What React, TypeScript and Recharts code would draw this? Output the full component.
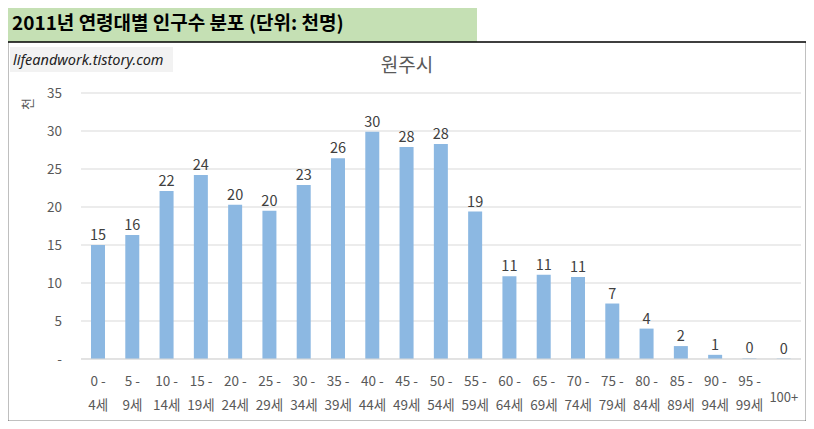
import { BarChart, Bar, XAxis, YAxis, CartesianGrid, LabelList } from 'recharts';

const FONT = '"Noto Sans CJK KR", "Noto Sans", sans-serif';

const AGE_GROUPS = [
  '0 - 4세', '5 - 9세', '10 - 14세', '15 - 19세', '20 - 24세', '25 - 29세', '30 - 34세',
  '35 - 39세', '40 - 44세', '45 - 49세', '50 - 54세', '55 - 59세', '60 - 64세', '65 - 69세',
  '70 - 74세', '75 - 79세', '80 - 84세', '85 - 89세', '90 - 94세', '95 - 99세', '100+',
];

// 천명 단위
const POPULATION = [
  15.0, 16.3, 22.1, 24.2, 20.3, 19.5, 22.9, 26.4, 29.9, 27.9, 28.3,
  19.4, 10.9, 11.1, 10.8, 7.3, 4.0, 1.7, 0.55, 0.08, 0.06,
];

const Y_TICKS = [0, 5, 10, 15, 20, 25, 30, 35];

const data = AGE_GROUPS.map((name, i) => ({ name, value: POPULATION[i] }));

const AgeTick = ({ x, y, payload }: any) => {
  const label: string = payload.value;
  const parts = label.split('- ');
  if (parts.length < 2) {
    return (
      <text x={x} y={y} dy={43} textAnchor="middle" fill="#595959" fontSize={13} fontFamily={FONT}>
        {label}
      </text>
    );
  }
  return (
    <g>
      <text x={x} y={y} dy={27} textAnchor="middle" fill="#595959" fontSize={13.5} fontFamily={FONT}>
        {parts[0] + '-'}
      </text>
      <text x={x} y={y} dy={51} textAnchor="middle" fill="#595959" fontSize={13.5} fontFamily={FONT}>
        {parts[1]}
      </text>
    </g>
  );
};

export default function App() {
  return (
    <div style={{ position: 'relative', width: 814, height: 429, margin: -8, background: '#fff', fontFamily: FONT }}>
      {/* heading band */}
      <div
        style={{
          position: 'absolute', left: 0, top: 2, width: 477, height: 40, background: '#c5e0b4',
          fontWeight: 700, fontSize: 19, lineHeight: '40px', paddingLeft: 12, boxSizing: 'border-box', color: '#000',
        }}
      >
        2011년 연령대별 인구수 분포 (단위: 천명)
      </div>

      <div
        style={{
          position: 'absolute', left: 10, top: 47, width: 163, height: 25, background: '#f2f2f2',
          fontStyle: 'italic', fontSize: 14.5, lineHeight: '25px', paddingLeft: 3, boxSizing: 'border-box',
          fontFamily: '"Noto Sans", sans-serif', color: '#222', whiteSpace: 'nowrap',
        }}
      >
        lifeandwork.tistory.com
      </div>

      <div
        style={{
          position: 'absolute', left: 7, top: 50, width: 800, textAlign: 'center',
          fontSize: 19, lineHeight: '28px', color: '#595959',
        }}
      >
        원주시
      </div>

      <div
        style={{
          position: 'absolute', left: 19, top: 96, width: 16, height: 16, fontSize: 13, lineHeight: '16px',
          color: '#595959', textAlign: 'center', transform: 'rotate(-90deg)',
        }}
      >
        천
      </div>

      <div style={{ position: 'absolute', left: 0, top: 0 }}>
        <BarChart width={814} height={429} data={data} margin={{ top: 93, right: 13, bottom: 0, left: 0 }} barSize={14}>
          <CartesianGrid vertical={false} stroke="#d9d9d9" />
          <XAxis
            dataKey="name"
            interval={0}
            height={70}
            tickSize={0}
            tickMargin={0}
            tickLine={false}
            axisLine={{ stroke: '#d9d9d9' }}
            tick={<AgeTick />}
          />
          <YAxis
            domain={[0, 35]}
            ticks={Y_TICKS}
            width={81}
            tickSize={0}
            tickMargin={19}
            axisLine={false}
            tickLine={false}
            tick={{ fill: '#595959', fontSize: 13.5, fontFamily: FONT }}
            tickFormatter={(v: number) => (v === 0 ? '-' : String(v))}
          />
          <Bar dataKey="value" fill="#8cb8e2" isAnimationActive={false}>
            <LabelList
              dataKey="value"
              position="top"
              offset={5}
              fill="#404040"
              fontSize={14.5}
              fontFamily={FONT}
              formatter={(v: any) => Math.round(Number(v))}
            />
          </Bar>
        </BarChart>
      </div>

      {/* chart frame, drawn on top */}
      <svg
        width={814}
        height={429}
        style={{ position: 'absolute', left: 0, top: 0, pointerEvents: 'none' }}
      >
        <rect x={7.5} y={42} width={799} height={379.5} fill="none" stroke="#000" strokeWidth={1.5} />
      </svg>
    </div>
  );
}
